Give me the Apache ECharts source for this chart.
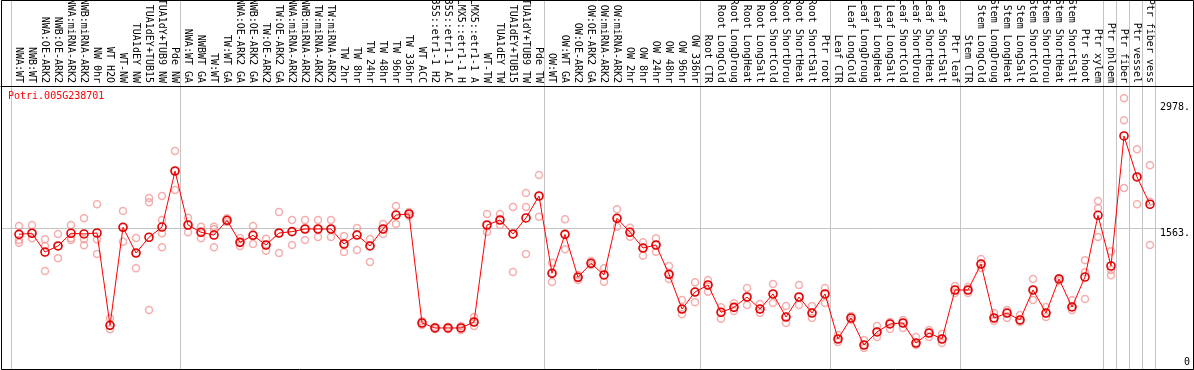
<!DOCTYPE html>
<html>
<head>
<meta charset="utf-8">
<script src="https://cdn.jsdelivr.net/npm/echarts@6/dist/echarts.min.js"></script>
<style>html,body{margin:0;padding:0;background:#fff}#c{width:1194px;height:370px}</style>
</head>
<body>
<div id="c"></div>
<script>
const geneTitle = 'Potri.005G238701';
const categories = [
 'NWA:WT','NWB:WT','NWA:OE-ARK2','NWB:OE-ARK2','NWA:miRNA-ARK2','NWB:miRNA-ARK2','NW 0hr','WT H2O','WT-NW','TUA1dEY NW','TUA1dEY+TUB15','TUA1dY+TUB9 NW','Pde NW',
 'NWA:WT GA','NWBWT GA','TW:WT','TW:WT GA','NWA:OE-ARK2 GA','NWB:OE-ARK2 GA','TW:OE-ARK2','TW:OE-ARK2 GA','NWA:miRNA-ARK2','NWB:miRNA-ARK2','TW:miRNA-ARK2','TW:miRNA-ARK2',
 'TW 2hr','TW 8hr','TW 24hr','TW 48hr','TW 96hr','TW 336hr','WT ACC','35S::etr1-1 H2','35S::etr1-1 AC','LMX5::etr1-1 H','LMX5::etr1-1 A','WT-TW','TUA1dEY TW','TUA1dEY+TUB15','TUA1dY+TUB9 TW','Pde TW',
 'OW:WT','OW:WT GA','OW:OE-ARK2','OW:OE-ARK2 GA','OW:miRNA-ARK2','OW:miRNA-ARK2','OW 2hr','OW 8hr','OW 24hr','OW 48hr','OW 96hr','OW 336hr',
 'Root CTR','Root LongCold','Root LongDroug','Root LongHeat','Root LongSalt','Root ShortCold','Root ShortDrou','Root ShortHeat','Root ShortSalt','Ptr root',
 'Leaf CTR','Leaf LongCold','Leaf LongDroug','Leaf LongHeat','Leaf LongSalt','Leaf ShortCold','Leaf ShortDrou','Leaf ShortHeat','Leaf ShortSalt','Ptr leaf',
 'Stem CTR','Stem LongCold','Stem LongDroug','Stem LongHeat','Stem LongSalt','Stem ShortCold','Stem ShortDrou','Stem ShortHeat','Stem ShortSalt','Ptr shoot','Ptr xylem',
 'Ptr phloem','Ptr fiber','Ptr vessel','Ptr fiber vess'
];
const meanValues = [
 1492,1504,1293,1361,1504,1496,1507,469,1571,1282,1459,1574,2204,
 1597,1515,1484,1650,1402,1481,1372,1507,1522,1552,1552,1552,
 1383,1484,1361,1552,1709,1721,495,439,439,439,506,1597,1653,1496,1676,1923,
 1054,1492,1009,1166,1035,1672,1515,1338,1372,1042,652,843,
 922,615,671,787,652,821,562,787,607,821,
 315,551,247,394,484,495,270,382,315,866,
 866,1158,551,607,529,866,607,990,675,1012,1706,
 1136,2598,2137,1830
];
const repA = [
 1586,1597,1436,1496,1597,1672,1830,548,1754,1451,1901,1923,2429,
 1679,1578,1578,1672,1451,1586,1443,1743,1653,1653,1653,1653,
 1473,1563,1439,1608,1811,1743,517,450,450,461,562,1721,1721,1799,1957,2159,
 1173,1661,1035,1192,1110,1773,1567,1402,1447,1136,753,952,
 978,671,716,888,708,933,686,922,686,888,
 360,574,304,461,506,529,337,416,371,911,
 900,1215,607,641,585,990,675,1001,753,1200,1867,
 1301,3022,2448,2268
];
const repB = [
 1428,1447,1361,1361,1447,1436,1436,469,1571,1282,1852,1653,2204,
 1597,1515,1548,1650,1402,1481,1372,1507,1522,1552,1552,1552,
 1383,1484,1361,1552,1709,1721,495,439,439,439,506,1597,1653,1496,1799,1923,
 1054,1492,1009,1166,1035,1672,1515,1338,1372,1042,652,843,
 922,615,671,787,652,821,562,787,607,821,
 315,551,247,394,484,495,270,382,315,866,
 866,1158,551,607,529,866,607,990,675,1065,1785,
 1091,2774,2137,1859
];
const repC = [
 1398,1507,1080,1222,1428,1369,1271,424,1409,1110,641,1504,1991,
 1515,1447,1346,1631,1361,1383,1308,1282,1372,1428,1462,1462,
 1293,1316,1181,1496,1608,1698,472,427,427,416,461,1518,1597,1068,1272,1690,
 956,1324,978,1147,959,1578,1466,1252,1297,990,593,728,
 847,543,630,697,607,720,495,697,551,720,
 281,529,214,337,427,439,247,337,270,832,
 832,1113,517,551,506,753,562,967,641,765,1462,
 1031,2013,1830,1372
];
const repExtraIdx = [11];
const repExtraVal = [1346];
const yTicks = [0, 1563, 2978];
const yMax = 3160;
const groupEnds = [-1, 12, 40, 52, 62, 72, 83, 84, 85, 86, 87];

const FONT = 'DejaVu Sans Mono';
const X_MIN = -18 / 13;
const X_MAX = X_MIN + 1192 / 13;

const repData = [];
[repA, repB, repC].forEach(arr => arr.forEach((v, i) => { if (v != null) repData.push([i, v]); }));
repExtraIdx.forEach((idx, k) => repData.push([idx, repExtraVal[k]]));
const meanData = meanValues.map((v, i) => [i, v]);

const chart = echarts.init(document.getElementById('c'), null, {renderer: 'canvas', width: 1194, height: 370});
chart.setOption({
  animation: false,
  backgroundColor: '#ffffff',
  title: {
    text: geneTitle, left: 8, top: 91, padding: 0,
    textStyle: {fontFamily: FONT, fontSize: 10, fontWeight: 'normal', color: '#ff0000'}
  },
  grid: {left: 1, right: 1, top: 86, bottom: 3, containLabel: false, outerBoundsMode: 'none'},
  xAxis: {
    type: 'value', position: 'top', min: X_MIN, max: X_MAX,
    axisLine: {show: true, onZero: false, lineStyle: {color: '#000', width: 1}},
    axisTick: {show: false},
    splitLine: {show: false},
    axisLabel: {
      customValues: categories.map((_, i) => i),
      rotate: 90, margin: 3, hideOverlap: false,
      showMinLabel: true, showMaxLabel: true,
      formatter: v => categories[Math.round(v)],
      fontFamily: FONT, fontSize: 10, color: '#000'
    }
  },
  yAxis: {
    type: 'value', position: 'right', min: 0, max: yMax,
    axisLine: {show: false}, axisTick: {show: false}, splitLine: {show: false},
    axisLabel: {
      inside: true, customValues: yTicks, margin: 3,
      verticalAlign: 'top', verticalAlignMinLabel: 'bottom',
      showMinLabel: true, showMaxLabel: true,
      formatter: v => v === 0 ? '0' : v + '.',
      fontFamily: FONT, fontSize: 10, color: '#000'
    }
  },
  series: [
    {
      type: 'scatter', data: repData, symbol: 'circle', symbolSize: 7, z: 3,
      itemStyle: {color: 'rgba(255,255,255,0)', borderColor: '#f19a9a', borderWidth: 1.5},
      silent: true
    },
    {
      type: 'line', data: meanData, symbol: 'circle', symbolSize: 8, showAllSymbol: true, z: 4,
      lineStyle: {color: '#ff0000', width: 1},
      itemStyle: {color: 'rgba(255,255,255,0)', borderColor: '#e00000', borderWidth: 1.6},
      silent: true
    }
  ]
});

const px = v => chart.convertToPixel({xAxisIndex: 0}, v);
const py = v => chart.convertToPixel({yAxisIndex: 0}, v);
const graphics = [];
groupEnds.forEach(i => {
  const x = Math.round(px(i + 0.4)) + 0.5;
  graphics.push({type: 'line', z: 0, silent: true, shape: {x1: x, y1: 0, x2: x, y2: 369}, style: {stroke: '#c4c4c4', lineWidth: 1}});
});
const gy = Math.round(py(yTicks[1])) + 0.5;
graphics.push({type: 'line', z: 0, silent: true, shape: {x1: 1, y1: gy, x2: Math.round(px(categories.length)), y2: gy}, style: {stroke: '#c4c4c4', lineWidth: 1}});
graphics.push({type: 'rect', z: 10, silent: true, shape: {x: 1.5, y: 0.5, width: 1192, height: 369}, style: {fill: null, stroke: '#000', lineWidth: 1}});
chart.setOption({graphic: graphics});
</script>
</body>
</html>
